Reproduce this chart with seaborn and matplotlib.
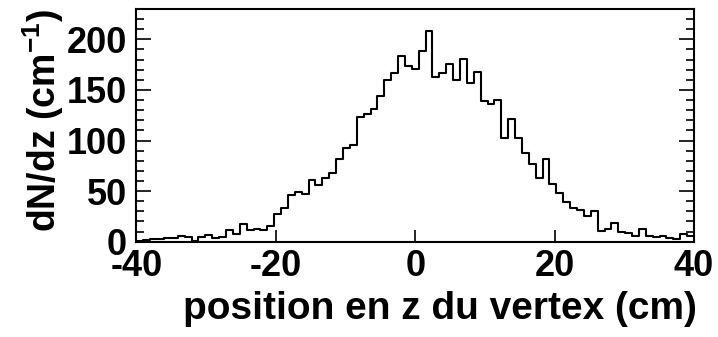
import numpy as np
import pandas as pd
import matplotlib
matplotlib.use("Agg")
import matplotlib.pyplot as plt
import seaborn as sns

# dN/dz per bin, 81 bins between -40 and 40 cm
dndz = [1, 2, 3, 3, 4, 4, 6, 5, 1, 5,
        7, 4, 5, 12, 8, 17, 12, 13, 12, 16,
        27, 33, 46, 49, 47, 61, 56, 63, 68, 82,
        93, 96, 123, 126, 131, 144, 160, 167, 184, 174,
        171, 188, 208, 163, 167, 176, 160, 181, 157, 168,
        139, 136, 140, 102, 121, 102, 88, 77, 63, 82,
        57, 48, 39, 33, 31, 25, 30, 11, 13, 18,
        10, 9, 6, 13, 6, 4.5, 6, 4, 2.5, 8,
        6]
z_min, z_max = -40, 40
x_ticks = [-40, -20, 0, 20, 40]
y_ticks = [0, 50, 100, 150, 200]

edges = np.linspace(z_min, z_max, len(dndz) + 1)
df = pd.DataFrame({"z": 0.5 * (edges[:-1] + edges[1:]), "dndz": dndz})

sns.set_style("ticks")
plt.rcParams["font.family"] = ["Liberation Sans", "DejaVu Sans"]
plt.rcParams["font.weight"] = "bold"
plt.rcParams["mathtext.fontset"] = "custom"
plt.rcParams["mathtext.rm"] = "Liberation Sans:bold"
plt.rcParams["mathtext.default"] = "rm"
for key in ["text.color", "axes.labelcolor", "xtick.color", "ytick.color",
            "axes.edgecolor"]:
    plt.rcParams[key] = "black"

fig = plt.figure(figsize=(7.18, 3.37), dpi=100)
ax = fig.add_axes([0.1901, 0.2828, 0.7765, 0.6905])

sns.histplot(data=df, x="z", weights="dndz", bins=len(dndz),
             binrange=(z_min, z_max), element="step",
             fill=False, color="black", linewidth=1.5, ax=ax)

ax.set_xlim(z_min, z_max)
ax.set_ylim(0, 230)
ax.set_xticks(x_ticks)
ax.set_xticklabels([str(t) for t in x_ticks])
ax.set_yticks(y_ticks)
ax.set_yticks(np.arange(0, 231, 10), minor=True)

for s in ax.spines.values():
    s.set_visible(True)
    s.set_linewidth(1.5)
    s.set_color("black")

ax.tick_params(axis="x", which="major", direction="in", length=9, width=1.2,
               labelsize=26, pad=5)
ax.tick_params(axis="y", which="major", direction="in", length=11, width=1.2,
               labelsize=26, pad=7, right=True)
ax.tick_params(axis="y", which="minor", direction="in", length=5.5, width=1.2,
               right=True)
for lab in ax.get_xticklabels() + ax.get_yticklabels():
    lab.set_fontweight("bold")

ax.set_xlabel("position en z du vertex (cm)", fontsize=28, fontweight="bold",
              loc="right", labelpad=5)
ax.set_ylabel("dN/dz (cm$^{-1}$)", fontsize=27, fontweight="bold",
              loc="top", labelpad=0)
ax.xaxis.label.set_x(1.005)

fig.savefig("out.png", dpi=100)
